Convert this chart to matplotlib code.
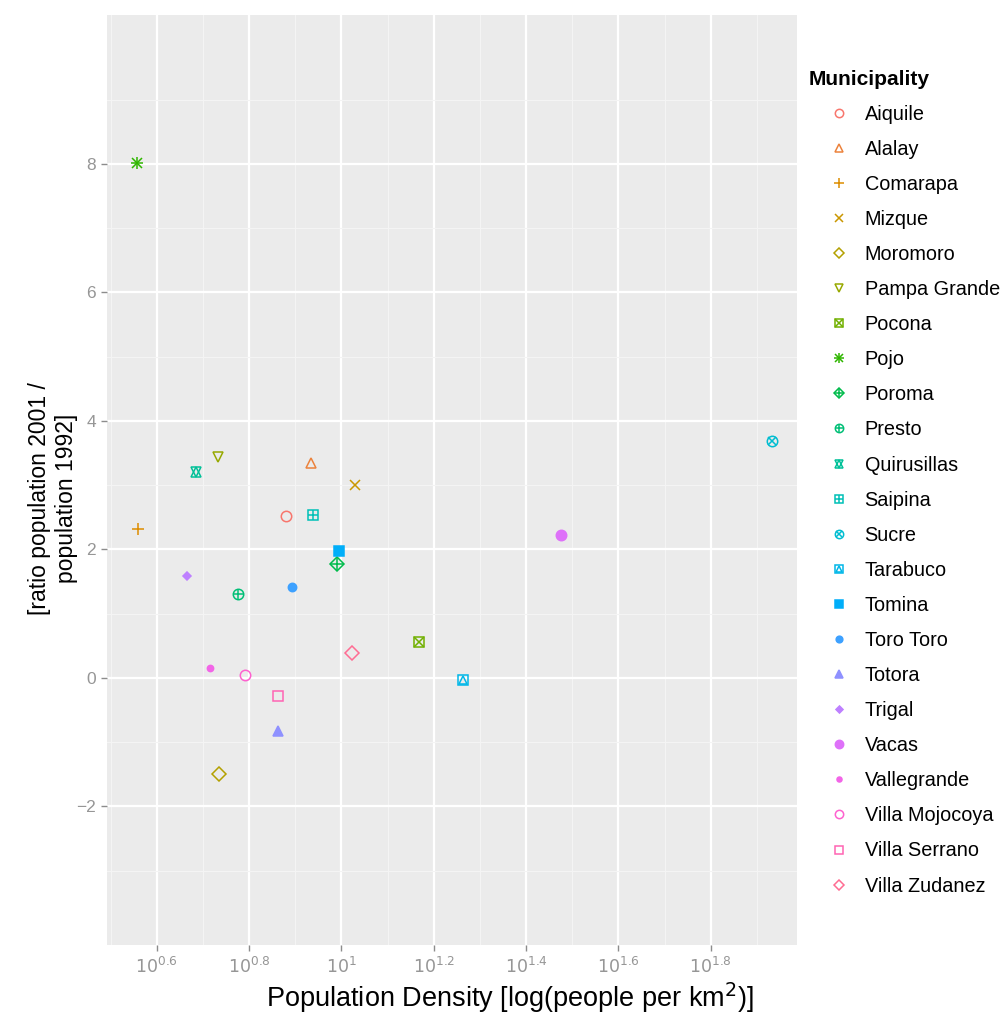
import matplotlib
matplotlib.use("Agg")
import matplotlib.pyplot as plt
from matplotlib.lines import Line2D
from matplotlib.ticker import NullFormatter
import numpy as np

# ---- data ----
municipalities = [
    "Aiquile", "Alalay", "Comarapa", "Mizque", "Moromoro", "Pampa Grande",
    "Pocona", "Pojo", "Poroma", "Presto", "Quirusillas", "Saipina", "Sucre",
    "Tarabuco", "Tomina", "Toro Toro", "Totora", "Trigal", "Vacas",
    "Vallegrande", "Villa Mojocoya", "Villa Serrano", "Villa Zudanez",
]
density = [
    7.60, 8.61, 3.62, 10.69, 5.43, 5.41,
    14.72, 3.61, 9.80, 5.97, 4.85, 8.69, 85.5,
    18.37, 9.89, 7.83, 7.28, 4.63, 29.85,
    5.19, 6.18, 7.29, 10.52,
]
ratio = [
    2.52, 3.35, 2.31, 3.01, -1.49, 3.44,
    0.56, 8.02, 1.77, 1.31, 3.21, 2.54, 3.69,
    -0.03, 1.97, 1.41, -0.82, 1.58, 2.23,
    0.15, 0.05, -0.29, 0.38,
]
x_tick_exp = [0.6, 0.8, 1.0, 1.2, 1.4, 1.6, 1.8]
x_tick_labels = ["$10^{0.6}$", "$10^{0.8}$", "$10^{1}$", "$10^{1.2}$",
                 "$10^{1.4}$", "$10^{1.6}$", "$10^{1.8}$"]
y_ticks = [-2, 0, 2, 4, 6, 8]


def hcl_to_hex(h, c=100.0, l=65.0):
    # polar Luv -> sRGB, like R's hcl()
    h = np.deg2rad(h)
    u, v = c * np.cos(h), c * np.sin(h)
    xn, yn, zn = 95.047, 100.0, 108.883
    y = yn * ((l + 16) / 116) ** 3
    un = 4 * xn / (xn + 15 * yn + 3 * zn)
    vn = 9 * yn / (xn + 15 * yn + 3 * zn)
    up = u / (13 * l) + un
    vp = v / (13 * l) + vn
    x = 9 * y * up / (4 * vp)
    z = y * (12 - 3 * up - 20 * vp) / (4 * vp)
    xyz = np.array([x, y, z]) / 100
    m = np.array([[3.2406, -1.5372, -0.4986],
                  [-0.9689, 1.8758, 0.0415],
                  [0.0557, -0.2040, 1.0570]])
    rgb = m @ xyz
    rgb = np.where(rgb <= 0.0031308, 12.92 * rgb, 1.055 * rgb ** (1 / 2.4) - 0.055)
    rgb = np.clip(rgb, 0, 1)
    return matplotlib.colors.to_hex(rgb)


n = len(municipalities)
hues = np.linspace(15, 375, n + 1)[:n]
colors = [hcl_to_hex(h) for h in hues]

# R pch 1..23 built from stacked matplotlib markers: (marker, filled, scale)
shapes = [
    [("o", False, 1.0)],
    [("^", False, 1.0)],
    [("+", None, 1.2)],
    [("x", None, 1.0)],
    [("D", False, 0.9)],
    [("v", False, 1.0)],
    [("s", False, 0.9), ("x", None, 0.9)],
    [("+", None, 1.2), ("x", None, 0.9)],
    [("D", False, 0.9), ("+", None, 1.2)],
    [("o", False, 1.0), ("+", None, 1.0)],
    [("^", False, 1.0), ("v", False, 1.0)],
    [("s", False, 0.9), ("+", None, 0.9)],
    [("o", False, 1.0), ("x", None, 0.75)],
    [("s", False, 0.9), ("^", False, 0.8)],
    [("s", True, 0.9)],
    [("o", True, 0.8)],
    [("^", True, 1.0)],
    [("D", True, 0.6)],
    [("o", True, 1.0)],
    [("o", True, 0.6)],
    [("o", False, 1.0)],
    [("s", False, 0.9)],
    [("D", False, 0.9)],
]


def marker_kw(marker, filled, scale, color, size):
    kw = dict(marker=marker, linestyle="none", markersize=size * scale,
              markeredgecolor=color, markeredgewidth=1.1)
    if filled is True:
        kw["markerfacecolor"] = color
    elif filled is False:
        kw["markerfacecolor"] = "none"
    return kw


plt.rcParams["font.family"] = ["Liberation Sans", "DejaVu Sans"]
fig = plt.figure(figsize=(10.05, 10.27), dpi=100)
ax = fig.add_axes([0.1065, 0.0798, 0.6865, 0.9056])
ax.set_facecolor("#EBEBEB")

for i, name in enumerate(municipalities):
    for marker, filled, scale in shapes[i]:
        ax.plot(density[i], ratio[i], zorder=3,
                **marker_kw(marker, filled, scale, colors[i], 7.5))

ax.set_xscale("log")
ax.set_xlim(10 ** 0.492, 10 ** 1.987)
ax.set_ylim(-4.16, 10.32)
ax.set_xticks([10 ** e for e in x_tick_exp])
ax.set_xticklabels(x_tick_labels)
ax.set_xticks([10 ** e for e in np.arange(0.5, 2.0, 0.2)], minor=True)
ax.xaxis.set_minor_formatter(NullFormatter())
ax.set_yticks(y_ticks)
ax.set_yticks(np.arange(-3, 10, 2), minor=True)
ax.tick_params(which="major", length=4, width=1, color="#8C8C8C",
               labelcolor="#969696", labelsize=12.5, pad=4)
ax.tick_params(which="minor", length=0)
ax.grid(True, which="major", color="white", linewidth=1.6)
ax.grid(True, which="minor", color="#F4F4F4", linewidth=0.8)
ax.set_axisbelow(True)
for s in ax.spines.values():
    s.set_visible(False)

ax.set_xlabel("Population Density [log(people per km$^2$)]", fontsize=19.5)
ax.xaxis.set_label_coords(0.584, -0.057)
ax.xaxis.label.set_verticalalignment("center")
ax.set_ylabel("[ratio population 2001 /\npopulation 1992]", fontsize=16.5,
              linespacing=1.2)
ax.yaxis.set_label_coords(-0.078, 0.48)
ax.yaxis.label.set_verticalalignment("center")

# legend with smaller proxy markers
handles = []
for i, name in enumerate(municipalities):
    parts = tuple(Line2D([], [], **marker_kw(m, f, sc, colors[i], 6))
                  for m, f, sc in shapes[i])
    handles.append(parts)
leg = fig.legend(handles, municipalities, loc="upper left",
                 bbox_to_anchor=(0.797, 0.94), frameon=False, fontsize=14.3,
                 title="Municipality",
                 title_fontproperties={"weight": "bold", "size": 15},
                 labelspacing=0.81, handlelength=3.0, handletextpad=-0.2,
                 borderaxespad=0)
leg._legend_box.align = "left"

fig.savefig("out.png", dpi=100)
